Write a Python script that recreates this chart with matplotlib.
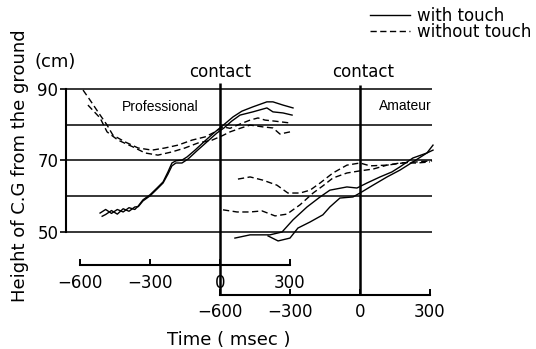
import matplotlib
matplotlib.use("Agg")
import matplotlib.pyplot as plt

# Professional curves: time from contact (msec), height of C.G (cm)
pro_touch1_t = [-514, -490, -465, -440, -415, -390, -365, -350, -330, -300, -270, -244, -223, -206,
                -189, -163, -141, -107, -64, -21, 9, 56, 94, 141, 201, 227, 270, 313]
pro_touch1_h = [55.3, 56.3, 55.2, 56.3, 55.6, 56.8, 56.3, 57.3, 59.0, 60.4, 62.3, 64.0, 66.8, 69.3,
                69.9, 70.1, 71.0, 72.9, 75.5, 78.0, 79.6, 82.2, 83.8, 85.0, 86.4, 86.4, 85.5, 84.7]
pro_touch2_t = [-505, -490, -465, -440, -415, -390, -365, -350, -330, -300, -270, -244, -223, -206,
                -189, -163, -137, -99, -56, -13, 17, 50, 86, 141, 201, 227, 270, 309]
pro_touch2_h = [54.4, 54.9, 56.0, 55.0, 56.5, 55.8, 57.0, 57.1, 58.7, 60.1, 62.0, 63.7, 66.2, 68.5,
                69.3, 69.3, 70.4, 72.7, 75.2, 77.7, 79.1, 81.0, 82.7, 83.6, 84.7, 83.6, 83.3, 82.7]
pro_free1_t = [-587, -557, -523, -484, -459, -407, -351, -291, -236, -180, -120, -64, -21, 13,
               43, 86, 129, 163, 193, 236, 300]
pro_free1_h = [89.7, 86.9, 83.6, 79.9, 77.1, 75.2, 73.5, 72.9, 73.5, 74.3, 75.7, 76.6, 78.0, 79.4,
               79.0, 80.2, 81.3, 81.9, 81.3, 81.0, 80.5]
pro_free2_t = [-566, -514, -484, -437, -373, -321, -266, -206, -150, -94, -34, 9, 43, 86, 129,
               184, 227, 257, 300]
pro_free2_h = [85.5, 81.9, 78.0, 75.7, 73.8, 72.1, 71.5, 72.4, 73.5, 74.9, 75.7, 76.9, 78.0, 79.0,
               79.9, 79.4, 79.1, 77.4, 78.0]

# Amateur curves: time from the amateur contact (msec)
am_touch1_t = [-536, -471, -386, -334, -287, -227, -171, -129, -56, -13, 30, 86, 137, 171, 227, 287, 313]
am_touch1_h = [48.3, 49.2, 49.2, 50.0, 53.4, 57.0, 59.8, 61.7, 62.6, 62.3, 63.7, 65.4, 66.8, 68.2,
               70.7, 72.1, 72.9]
am_touch2_t = [-394, -351, -300, -266, -214, -159, -129, -86, -30, 0, 56, 116, 171, 227, 287, 313]
am_touch2_h = [48.9, 47.5, 48.3, 51.1, 52.8, 54.8, 57.0, 59.5, 59.8, 60.9, 63.1, 65.4, 67.3, 69.6,
               72.1, 74.3]
am_free1_t = [-523, -471, -416, -356, -309, -257, -214, -171, -116, -56, 0, 43, 116, 184, 244, 300]
am_free1_h = [64.8, 65.4, 64.5, 63.1, 60.9, 60.9, 61.7, 63.7, 66.5, 68.7, 69.3, 68.5, 68.7, 69.3,
              69.3, 69.6]
am_free2_t = [-587, -527, -471, -420, -364, -313, -257, -201, -159, -116, -56, 0, 56, 116, 171, 244, 309]
am_free2_h = [56.2, 55.6, 55.6, 55.9, 54.5, 55.0, 57.6, 60.9, 62.9, 65.1, 66.5, 67.1, 67.6, 68.7,
              69.3, 69.6, 69.9]

time_ticks = [-600, -300, 0, 300]
height_ticks = [50, 70, 90]
grid_levels = [50, 60, 70, 80, 90]
am_offset = 600  # amateur contact sits 600 msec right of the professional one


def main():
    fig = plt.figure(figsize=(5.36, 3.49), dpi=100)
    ax = fig.add_axes([66 / 536, 49 / 349, 374 / 536, 230 / 349])
    ymin, ymax = 30.98, 95.31
    ax.set_xlim(-660, 943)
    ax.set_ylim(ymin, ymax)

    for s in ['top', 'right', 'bottom']:
        ax.spines[s].set_visible(False)
    ax.spines['left'].set_bounds(50, 90)
    ax.spines['left'].set_linewidth(1.5)
    ax.set_xticks([])
    ax.set_yticks(height_ticks)
    ax.tick_params(axis='y', length=4, width=1.2, pad=1.5, labelsize=12)

    ax.hlines(grid_levels, -660, 910, color='black', lw=1.1)
    ax.vlines(0, 32.4, 91.6, color='black', lw=1.8)
    ax.vlines(am_offset, 32.4, 91.2, color='black', lw=1.8)

    solid = dict(color='black', lw=1.0)
    dashed = dict(color='black', lw=1.0, dashes=(4.5, 2.5))
    h_touch, = ax.plot(pro_touch1_t, pro_touch1_h, **solid)
    ax.plot(pro_touch2_t, pro_touch2_h, **solid)
    h_free, = ax.plot(pro_free1_t, pro_free1_h, **dashed)
    ax.plot(pro_free2_t, pro_free2_h, **dashed)
    ax.plot([t + am_offset for t in am_touch1_t], am_touch1_h, **solid)
    ax.plot([t + am_offset for t in am_touch2_t], am_touch2_h, **solid)
    ax.plot([t + am_offset for t in am_free1_t], am_free1_h, **dashed)
    ax.plot([t + am_offset for t in am_free2_t], am_free2_h, **dashed)

    # the two time axes under the plot
    def frac(y):
        return (y - ymin) / (ymax - ymin)

    sec_pro = ax.secondary_xaxis(frac(40.8))
    sec_am = ax.secondary_xaxis(frac(32.4), functions=(lambda t: t - am_offset, lambda t: t + am_offset))
    for sec in (sec_pro, sec_am):
        sec.set_xticks(time_ticks)
        sec.spines['bottom'].set_bounds(-600, 300)
        sec.spines['bottom'].set_linewidth(1.5)
        sec.tick_params(direction='in', length=4, width=1.4, labelsize=12)
    sec_pro.tick_params(pad=6.5)
    sec_am.tick_params(pad=5.5)

    ax.text(0, 94.75, 'contact', ha='center', va='center', fontsize=12)
    ax.text(am_offset + 13, 94.75, 'contact', ha='center', va='center', fontsize=12)
    ax.text(-257, 85.0, 'Professional', ha='center', va='center', fontsize=10, family='Liberation Sans')
    ax.text(793, 85.2, 'Amateur', ha='center', va='center', fontsize=10, family='Liberation Sans')

    fig.text(0.037, 0.524, 'Height of C.G from the ground', rotation=90, ha='center', va='center',
             fontsize=13)
    fig.text(55 / 536, 1 - 62 / 349, '(cm)', ha='center', va='center', fontsize=13)
    fig.text(229 / 536, 1 - 340 / 349, 'Time ( msec )', ha='center', va='center', fontsize=13)

    ax.legend([h_touch, h_free], ['with touch', 'without touch'], loc='upper left',
              bbox_to_anchor=(370 / 536, 1 - 7 / 349), bbox_transform=fig.transFigure,
              frameon=False, fontsize=12, handlelength=2.4, handletextpad=0.4,
              labelspacing=-0.1, borderpad=0, borderaxespad=0)

    fig.savefig('out.png', dpi=100)
    plt.close(fig)


if __name__ == "__main__":
    main()
